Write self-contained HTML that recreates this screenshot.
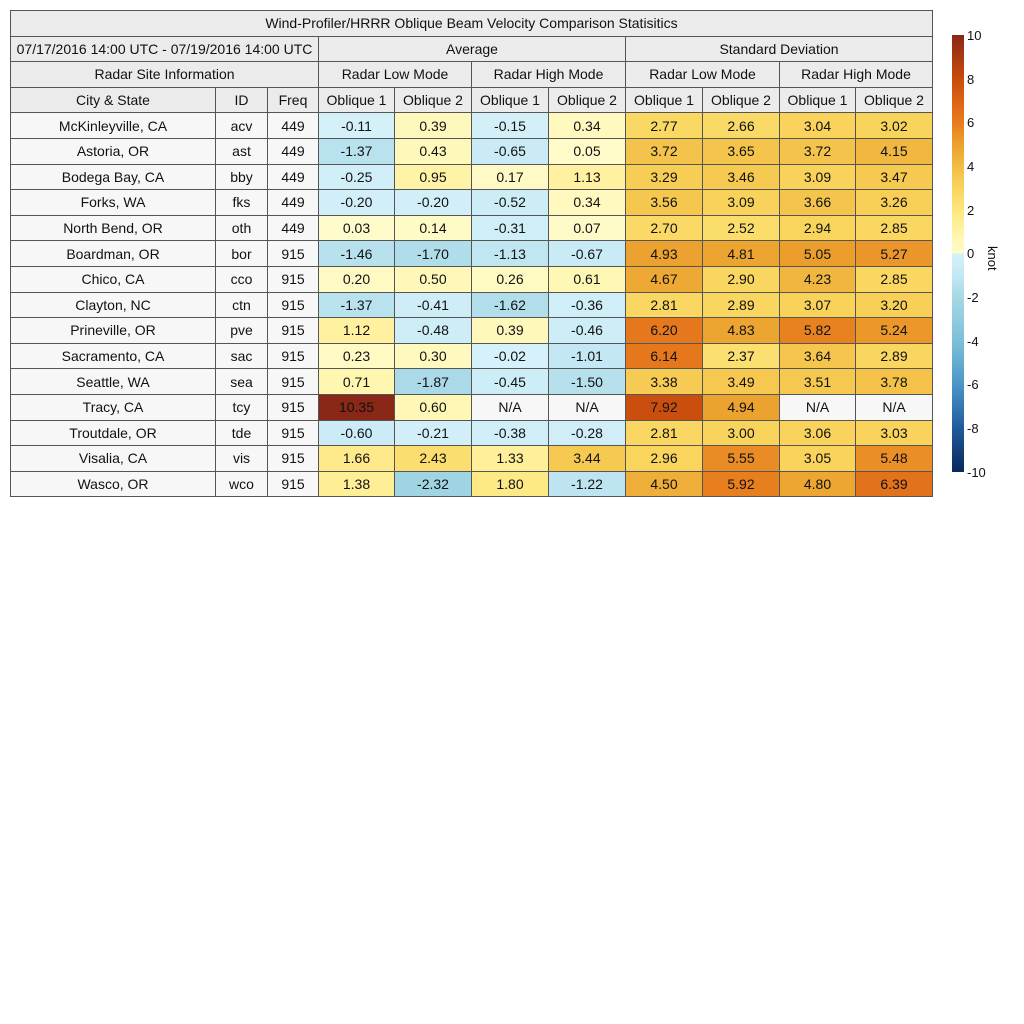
<!DOCTYPE html><html><head><meta charset="utf-8"><style>
body{margin:0;background:#fff;width:1024px;height:1024px;position:relative;font-family:"Liberation Sans",sans-serif;font-size:14px;color:#111}
table{position:absolute;left:10px;top:10px;border-collapse:collapse;table-layout:fixed;width:922px}
td{border:1px solid #555;text-align:center;padding:0;height:24.6px;white-space:nowrap;overflow:hidden}
.h{background:#ebebeb}
.c{background:#f7f7f7}
#cb{position:absolute;left:952px;top:35px;width:12px;height:437px}
.lb{position:absolute;left:967px;font-size:13px;line-height:13px}
</style></head><body>
<table id="t">
<colgroup><col style="width:205px"><col style="width:52px"><col style="width:51px"><col style="width:76px"><col style="width:77px"><col style="width:77px"><col style="width:77px"><col style="width:77px"><col style="width:77px"><col style="width:76px"><col style="width:77px"></colgroup>
<tr><td class="h" colspan="11">Wind-Profiler/HRRR Oblique Beam Velocity Comparison Statisitics</td></tr>
<tr><td class="h" colspan="3">07/17/2016 14:00 UTC - 07/19/2016 14:00 UTC</td><td class="h" colspan="4">Average</td><td class="h" colspan="4">Standard Deviation</td></tr>
<tr><td class="h" colspan="3">Radar Site Information</td><td class="h" colspan="2">Radar Low Mode</td><td class="h" colspan="2">Radar High Mode</td><td class="h" colspan="2">Radar Low Mode</td><td class="h" colspan="2">Radar High Mode</td></tr>
<tr><td class="h">City &amp; State</td><td class="h">ID</td><td class="h">Freq</td><td class="h">Oblique 1</td><td class="h">Oblique 2</td><td class="h">Oblique 1</td><td class="h">Oblique 2</td><td class="h">Oblique 1</td><td class="h">Oblique 2</td><td class="h">Oblique 1</td><td class="h">Oblique 2</td></tr>
</table>
<div id="cb"></div>
<div class="lb" style="top:29px">10</div><div class="lb" style="top:73px">8</div><div class="lb" style="top:116px">6</div><div class="lb" style="top:160px">4</div><div class="lb" style="top:204px">2</div><div class="lb" style="top:247px">0</div><div class="lb" style="top:291px">-2</div><div class="lb" style="top:335px">-4</div><div class="lb" style="top:378px">-6</div><div class="lb" style="top:422px">-8</div><div class="lb" style="top:466px">-10</div>
<div style="position:absolute;left:982px;top:246px;transform:rotate(90deg);transform-origin:left top;font-size:13px;left:1000px">knot</div>
<script>
var P=[[0,[255,252,204]],[1,[255,243,165]],[2,[253,230,125]],[3,[249,212,92]],[4,[242,188,68]],[5,[236,160,46]],[6,[231,124,30]],[7,[219,98,22]],[8,[200,76,12]],[10,[137,40,22]]];
var N=[[0,[214,241,250]],[1,[195,232,243]],[2,[166,216,229]],[4,[124,191,216]],[6,[74,150,200]],[8,[31,90,156]],[10,[10,40,90]]];
function col(v){var s=v<0?N:P,a=Math.abs(v);if(a>10)a=10;for(var i=1;i<s.length;i++){if(a<=s[i][0]){var f=(a-s[i-1][0])/(s[i][0]-s[i-1][0]);var c=s[i-1][1].map(function(x,k){return Math.round(x+(s[i][1][k]-x)*f)});return'rgb('+c+')';}}}
var D=[["McKinleyville, CA","acv",449,-0.11,0.39,-0.15,0.34,2.77,2.66,3.04,3.02],
["Astoria, OR","ast",449,-1.37,0.43,-0.65,0.05,3.72,3.65,3.72,4.15],
["Bodega Bay, CA","bby",449,-0.25,0.95,0.17,1.13,3.29,3.46,3.09,3.47],
["Forks, WA","fks",449,-0.20,-0.20,-0.52,0.34,3.56,3.09,3.66,3.26],
["North Bend, OR","oth",449,0.03,0.14,-0.31,0.07,2.70,2.52,2.94,2.85],
["Boardman, OR","bor",915,-1.46,-1.70,-1.13,-0.67,4.93,4.81,5.05,5.27],
["Chico, CA","cco",915,0.20,0.50,0.26,0.61,4.67,2.90,4.23,2.85],
["Clayton, NC","ctn",915,-1.37,-0.41,-1.62,-0.36,2.81,2.89,3.07,3.20],
["Prineville, OR","pve",915,1.12,-0.48,0.39,-0.46,6.20,4.83,5.82,5.24],
["Sacramento, CA","sac",915,0.23,0.30,-0.02,-1.01,6.14,2.37,3.64,2.89],
["Seattle, WA","sea",915,0.71,-1.87,-0.45,-1.50,3.38,3.49,3.51,3.78],
["Tracy, CA","tcy",915,10.35,0.60,null,null,7.92,4.94,null,null],
["Troutdale, OR","tde",915,-0.60,-0.21,-0.38,-0.28,2.81,3.00,3.06,3.03],
["Visalia, CA","vis",915,1.66,2.43,1.33,3.44,2.96,5.55,3.05,5.48],
["Wasco, OR","wco",915,1.38,-2.32,1.80,-1.22,4.50,5.92,4.80,6.39]];
var h='';D.forEach(function(r){h+='<tr><td class="c">'+r[0]+'</td><td class="c">'+r[1]+'</td><td class="c">'+r[2]+'</td>';for(var i=3;i<11;i++){var v=r[i];if(v===null)h+='<td class="c">N/A</td>';else h+='<td style="background:'+col(v)+'">'+v.toFixed(2)+'</td>';}h+='</tr>';});
document.getElementById('t').insertAdjacentHTML('beforeend',h);
var g=[];for(var i=0;i<=40;i++){var v=10-i*0.5;g.push(col(v===0?0.0001:v)+' '+(i*2.5)+'%');}
g.splice(20,1,col(0.0001)+' 50%',col(-0.0001)+' 50%');
document.getElementById('cb').style.background='linear-gradient(to bottom,'+g.join(',')+')';
</script>
</body></html>
